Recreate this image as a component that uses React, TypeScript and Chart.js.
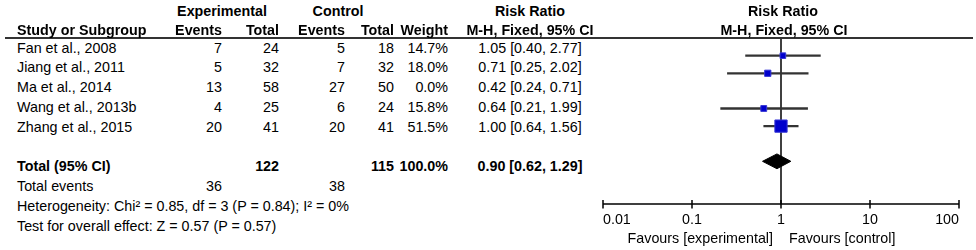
import React, { useEffect, useRef } from 'react';
import { Chart, registerables } from 'chart.js';

Chart.register(...registerables);

// ---------------- data ----------------
const studies = ['Fan et al., 2008', 'Jiang et al., 2011', 'Ma et al., 2014', 'Wang et al., 2013b', 'Zhang et al., 2015'];
const expEvents = [7, 5, 13, 4, 20];
const expTotal = [24, 32, 58, 25, 41];
const ctrlEvents = [5, 7, 27, 6, 20];
const ctrlTotal = [18, 32, 50, 24, 41];
const weights = [14.7, 18.0, 0.0, 15.8, 51.5];
const riskRatio = [1.05, 0.71, 0.42, 0.64, 1.0];
const ciLow = [0.4, 0.25, 0.24, 0.21, 0.64];
const ciHigh = [2.77, 2.02, 0.71, 1.99, 1.56];
const studyRows = [1, 2, 3, 4, 5];

const totalLabel = 'Total (95% CI)';
const totalSizes = [122, 115];
const totalWeight = 100.0;
const totalRR = [0.9, 0.62, 1.29]; // estimate, low, high
const totalRow = 7;
const totalEvents = [36, 38];
const heterogeneity = 'Heterogeneity: Chi\u00b2 = 0.85, df = 3 (P = 0.84); I\u00b2 = 0%';
const overallEffect = 'Test for overall effect: Z = 0.57 (P = 0.57)';
const xTicks = [0.01, 0.1, 1, 10, 100];
const favourLeft = 'Favours [experimental]';
const favourRight = 'Favours [control]';

// ---------------- layout ----------------
const W = 976;
const H = 250;
const FONT = '"Liberation Sans", Arial, Helvetica, sans-serif';
const FS = 14.3;
const Y_MIN = 0.52;
const Y_MAX = 8.9;
const AREA_TOP = 38;
const AREA_BOTTOM = 204;
const CANVAS_LEFT = 590;
const CANVAS_W = W - CANVAS_LEFT;
const rowY = (r: number) => AREA_TOP + ((r - Y_MIN) * (AREA_BOTTOM - AREA_TOP)) / (Y_MAX - Y_MIN);

const fmt = (v: number) => v.toFixed(2);
const ciText = (e: number, l: number, h: number) => `${fmt(e)} [${fmt(l)}, ${fmt(h)}]`;

type TProps = {
  x: number;
  y: number;
  align?: 'left' | 'right' | 'center';
  bold?: boolean;
  children: React.ReactNode;
};
function T({ x, y, align = 'left', bold = false, children }: TProps) {
  const style: React.CSSProperties = {
    position: 'absolute',
    top: y - 9,
    lineHeight: '18px',
    fontSize: FS,
    fontWeight: bold ? 'bold' : 'normal',
    whiteSpace: 'nowrap',
  };
  if (align === 'left') style.left = x;
  else if (align === 'right') style.right = W - x;
  else {
    style.left = x;
    style.transform = 'translateX(-50%)';
  }
  return <div style={style}>{children}</div>;
}

const COL = { study: 17, expE: 222, expT: 279, ctlE: 345, ctlT: 394, wt: 448, ci: 530 };

function ForestChart() {
  const ref = useRef<HTMLCanvasElement | null>(null);
  useEffect(() => {
    if (!ref.current) return;
    const shown = studyRows.map((_, i) => i).filter((i) => weights[i] > 0);
    const sideOf = (w: number) => 3 + 0.18 * w;

    const overlay = {
      id: 'forestOverlay',
      beforeDatasetsDraw(chart: any) {
        const { ctx, chartArea, scales } = chart;
        const x1 = scales.x.getPixelForValue(1);
        ctx.save();
        ctx.strokeStyle = '#000';
        ctx.lineWidth = 1.5;
        ctx.beginPath();
        ctx.moveTo(x1, chartArea.top);
        ctx.lineTo(x1, chartArea.bottom);
        ctx.stroke();
        ctx.restore();
      },
      afterDraw(chart: any) {
        const { ctx, chartArea, scales } = chart;
        const y = chartArea.bottom;
        ctx.save();
        ctx.strokeStyle = '#000';
        ctx.lineWidth = 1.5;
        ctx.beginPath();
        ctx.moveTo(scales.x.getPixelForValue(xTicks[0]), y);
        ctx.lineTo(scales.x.getPixelForValue(xTicks[xTicks.length - 1]), y);
        xTicks.forEach((t) => {
          const px = scales.x.getPixelForValue(t);
          ctx.moveTo(px, y - 4);
          ctx.lineTo(px, y + 4.5);
        });
        ctx.stroke();
        ctx.restore();
      },
    };

    const chart = new Chart(ref.current, {
      type: 'bar',
      data: {
        datasets: [
          {
            type: 'scatter',
            data: shown.map((i) => ({ x: riskRatio[i], y: studyRows[i] })),
            pointStyle: 'rect',
            pointRadius: shown.map((i) => sideOf(weights[i]) / Math.SQRT2),
            backgroundColor: '#0000CC',
            borderColor: '#3737D6',
            borderWidth: 1,
            order: 0,
          } as any,
          {
            type: 'bar',
            indexAxis: 'y',
            data: shown.map((i) => ({ x: [ciLow[i], ciHigh[i]], y: studyRows[i] })),
            backgroundColor: '#333333',
            borderWidth: 0,
            barThickness: 1.6,
            order: 1,
          } as any,
          {
            type: 'line',
            data: [
              { x: totalRR[1], y: totalRow },
              { x: totalRR[0], y: totalRow - 0.42 },
              { x: totalRR[2], y: totalRow },
              { x: totalRR[0], y: totalRow + 0.42 },
              { x: totalRR[1], y: totalRow },
            ],
            borderColor: '#000',
            backgroundColor: '#000',
            borderWidth: 1,
            pointRadius: 0,
            tension: 0,
            fill: 'shape',
            order: 0,
          } as any,
        ],
      },
      options: {
        animation: false,
        responsive: false,
        events: [],
        layout: { padding: { left: 13, right: 17, top: AREA_TOP, bottom: 0 } },
        plugins: { legend: { display: false }, tooltip: { enabled: false } },
        scales: {
          x: {
            type: 'logarithmic',
            position: 'bottom',
            min: xTicks[0],
            max: xTicks[xTicks.length - 1],
            grid: { display: false, drawTicks: false },
            border: { display: false },
            afterBuildTicks: (scale: any) => {
              scale.ticks = xTicks.map((v) => ({ value: v }));
            },
            afterFit: (scale: any) => {
              scale.height = H - AREA_BOTTOM;
            },
            ticks: {
              autoSkip: false,
              maxRotation: 0,
              align: 'inner',
              padding: 7,
              color: '#000',
              font: { family: FONT, size: FS },
              callback: (v: any) => String(v),
            },
          },
          y: {
            type: 'linear',
            display: false,
            reverse: true,
            min: Y_MIN,
            max: Y_MAX,
          },
        },
      } as any,
      plugins: [overlay],
    });
    return () => chart.destroy();
  }, []);
  return (
    <canvas
      ref={ref}
      width={CANVAS_W}
      height={H}
      style={{ position: 'absolute', left: CANVAS_LEFT, top: 0, width: CANVAS_W, height: H }}
    />
  );
}

export default function App() {
  const x1 = 781;
  return (
    <div
      style={{
        position: 'absolute',
        left: 0,
        top: 0,
        width: W,
        height: H,
        background: '#fff',
        fontFamily: FONT,
        color: '#000',
        overflow: 'hidden',
      }}
    >
      <ForestChart />
      <div style={{ position: 'absolute', left: 5, top: 37, width: 968, height: 1.5, background: '#333' }} />

      <T x={222} y={11} align="center" bold>Experimental</T>
      <T x={338} y={11} align="center" bold>Control</T>
      <T x={COL.ci} y={11} align="center" bold>Risk Ratio</T>
      <T x={783} y={11} align="center" bold>Risk Ratio</T>

      <T x={COL.study} y={30} bold>Study or Subgroup</T>
      <T x={COL.expE} y={30} align="right" bold>Events</T>
      <T x={COL.expT} y={30} align="right" bold>Total</T>
      <T x={COL.ctlE} y={30} align="right" bold>Events</T>
      <T x={COL.ctlT} y={30} align="right" bold>Total</T>
      <T x={COL.wt} y={30} align="right" bold>Weight</T>
      <T x={COL.ci} y={30} align="center" bold>M-H, Fixed, 95% CI</T>
      <T x={784} y={30} align="center" bold>M-H, Fixed, 95% CI</T>

      {studies.map((s, i) => {
        const y = rowY(studyRows[i]);
        return (
          <React.Fragment key={s}>
            <T x={COL.study} y={y}>{s}</T>
            <T x={COL.expE} y={y} align="right">{expEvents[i]}</T>
            <T x={COL.expT} y={y} align="right">{expTotal[i]}</T>
            <T x={COL.ctlE} y={y} align="right">{ctrlEvents[i]}</T>
            <T x={COL.ctlT} y={y} align="right">{ctrlTotal[i]}</T>
            <T x={COL.wt} y={y} align="right">{weights[i].toFixed(1)}%</T>
            <T x={COL.ci} y={y} align="center">{ciText(riskRatio[i], ciLow[i], ciHigh[i])}</T>
          </React.Fragment>
        );
      })}

      <T x={COL.study} y={rowY(totalRow)} bold>{totalLabel}</T>
      <T x={COL.expT} y={rowY(totalRow)} align="right" bold>{totalSizes[0]}</T>
      <T x={COL.ctlT} y={rowY(totalRow)} align="right" bold>{totalSizes[1]}</T>
      <T x={COL.wt} y={rowY(totalRow)} align="right" bold>{totalWeight.toFixed(1)}%</T>
      <T x={COL.ci} y={rowY(totalRow)} align="center" bold>{ciText(totalRR[0], totalRR[1], totalRR[2])}</T>

      <T x={COL.study} y={rowY(totalRow + 1)}>Total events</T>
      <T x={COL.expE} y={rowY(totalRow + 1)} align="right">{totalEvents[0]}</T>
      <T x={COL.ctlE} y={rowY(totalRow + 1)} align="right">{totalEvents[1]}</T>
      <T x={COL.study} y={rowY(totalRow + 2)}>{heterogeneity}</T>
      <T x={COL.study} y={rowY(totalRow + 3)}>{overallEffect}</T>

      <T x={x1 - 8} y={238} align="right">{favourLeft}</T>
      <T x={x1 + 8} y={238}>{favourRight}</T>
    </div>
  );
}
